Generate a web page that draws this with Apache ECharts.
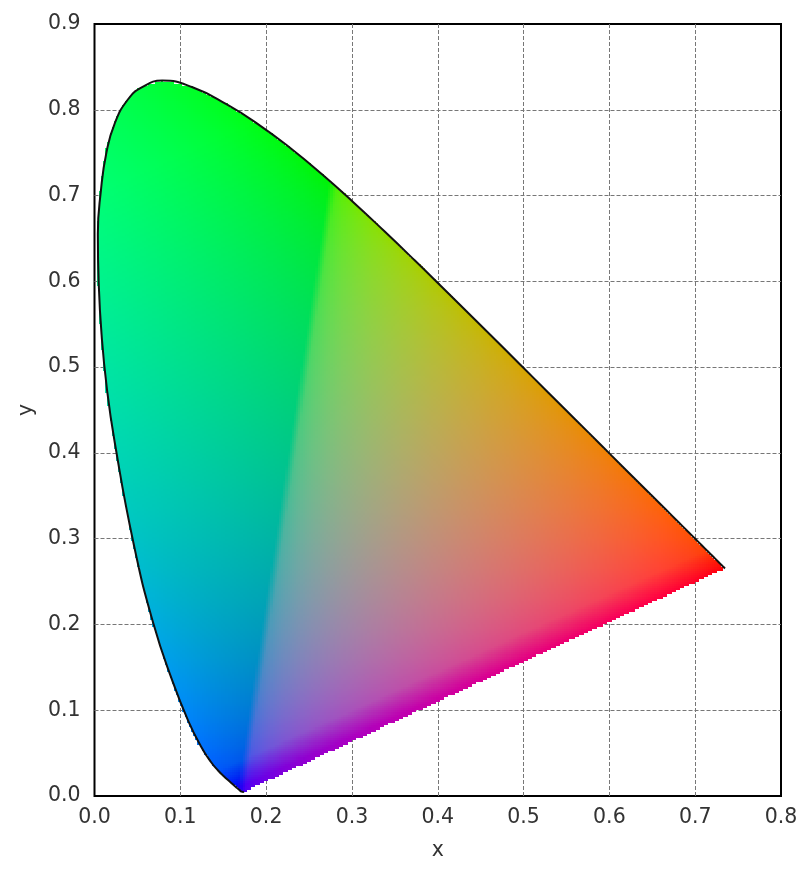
<!DOCTYPE html>
<html><head><meta charset="utf-8">
<style>html,body{margin:0;padding:0;background:#fff}#c{width:812px;height:876px}</style>
<script src="https://cdn.jsdelivr.net/npm/echarts@6/dist/echarts.min.js"></script>
</head><body><div id="c"></div>
<script>
const locusX=[.1741,.1738,.1733,.1726,.1714,.1689,.1644,.1611,.1566,.1510,.1440,.1355,.1241,.1096,.0913,.0687,.0454,.0235,.0143,.0082,.0049,.0039,.0075,.0139,.0235,.0389,.0550,.0790,.1142,.1547,.1929,.2296,.2658,.3016,.3373,.3731,.4087,.4441,.4788,.5125,.5448,.5752,.6029,.6270,.6482,.6658,.6801,.6915,.7006,.7079,.7140,.7190,.7230,.7260,.7300,.7320,.7334,.7347];
const locusY=[.0050,.0049,.0048,.0048,.0051,.0069,.0109,.0138,.0177,.0227,.0297,.0399,.0578,.0868,.1327,.2007,.2950,.4127,.4760,.5384,.5980,.6548,.7060,.7502,.7840,.8120,.8260,.8340,.8262,.8059,.7816,.7543,.7243,.6923,.6589,.6245,.5896,.5547,.5202,.4866,.4544,.4242,.3965,.3725,.3514,.3340,.3197,.3083,.2993,.2920,.2859,.2809,.2770,.2740,.2700,.2680,.2666,.2653];
const xTicks=[0,0.1,0.2,0.3,0.4,0.5,0.6,0.7,0.8];
const yTicks=[0,0.1,0.2,0.3,0.4,0.5,0.6,0.7,0.8,0.9];
const xyzToRgb=[[2.3646,-0.8965,-0.4681],[-0.5152,1.4264,0.0888],[0.0052,-0.0144,1.0092]];
const cellStep=0.0025;

const locus=locusX.map((x,i)=>[x,locusY[i]]);
function inside(x,y){let c=false;for(let i=0,j=locus.length-1;i<locus.length;j=i++){const a=locus[i],b=locus[j];
  if((a[1]>y)!==(b[1]>y)&&x<(b[0]-a[0])*(y-a[1])/(b[1]-a[1])+a[0])c=!c;}return c;}
const clip=v=>Math.min(1,Math.max(0,v));
const curve=(v,toe,gm)=>v<toe?v/toe*Math.pow(toe,1/gm):Math.pow(v,1/gm);
function colour(x,y){const z=1-x-y;const [r,g,b]=xyzToRgb.map(m=>m[0]*x+m[1]*y+m[2]*z);
  const rl=clip(0.78*r);
  const R=curve(rl,0.02,3.2);
  const G=curve(clip(0.97*g),0.04,3)*(1-0.25*rl);
  const over=Math.max(0,(z-0.6)/0.3);
  const boost=1+0.25*over*over*Math.max(0,1-4*r);
  const B=Math.pow(clip(b*boost),1/1.6);
  return 'rgb('+[R,G,B].map(v=>Math.round(255*v)).join(',')+')';}
const cells=[];const h=cellStep/2;
for(let i=0;i*cellStep<0.76;i++)for(let j=0;j*cellStep<0.86;j++){const x=(i+.5)*cellStep,y=(j+.5)*cellStep;
  if(inside(x,y)||(x<0.13&&y>0.02&&inside(x+h,y)))cells.push([x,y]);}

const chart=echarts.init(document.getElementById('c'),null,{renderer:'canvas'});
const fnt='"DejaVu Sans",sans-serif';
const split={show:true,showMinLine:false,showMaxLine:false,lineStyle:{color:'#777',type:[4,2],width:1}};
chart.setOption({animation:false,backgroundColor:'#fff',
 grid:{left:94.5,top:24,right:31,bottom:80,show:true,borderColor:'#000',borderWidth:2,backgroundColor:'transparent'},
 xAxis:{type:'value',min:0,max:0.8,interval:0.1,name:'x',nameLocation:'middle',nameGap:44,nameTextStyle:{fontSize:20.5,color:'#333',fontFamily:fnt},
  axisLine:{show:false},axisTick:{show:false},axisLabel:{fontSize:20.5,color:'#333',fontFamily:fnt,margin:11,formatter:v=>v.toFixed(1)},splitLine:split},
 yAxis:{type:'value',min:0,max:0.9,interval:0.1,name:'y',nameLocation:'middle',nameGap:57,nameTextStyle:{fontSize:20.5,color:'#333',fontFamily:fnt},
  axisLine:{show:false},axisTick:{show:false},axisLabel:{fontSize:20.5,color:'#333',fontFamily:fnt,margin:14,padding:[5,0,0,0],formatter:v=>v.toFixed(1)},splitLine:split},
 series:[{type:'custom',silent:true,coordinateSystem:'cartesian2d',data:cells,encode:{x:0,y:1},progressive:0,
   renderItem(p,api){const x=api.value(0),y=api.value(1);const a=api.coord([x-h,y+h]),b=api.coord([x+h,y-h]);
     const l=Math.round(a[0]),t=Math.round(a[1]),r=Math.round(b[0]),d=Math.round(b[1]);
     return{type:'rect',shape:{x:l,y:t,width:r-l,height:d-t},style:{fill:colour(x,y)}};}},
  {type:'line',silent:true,data:locus,showSymbol:false,smooth:0.5,lineStyle:{color:'#111',width:2},z:5}]
});
</script></body></html>
